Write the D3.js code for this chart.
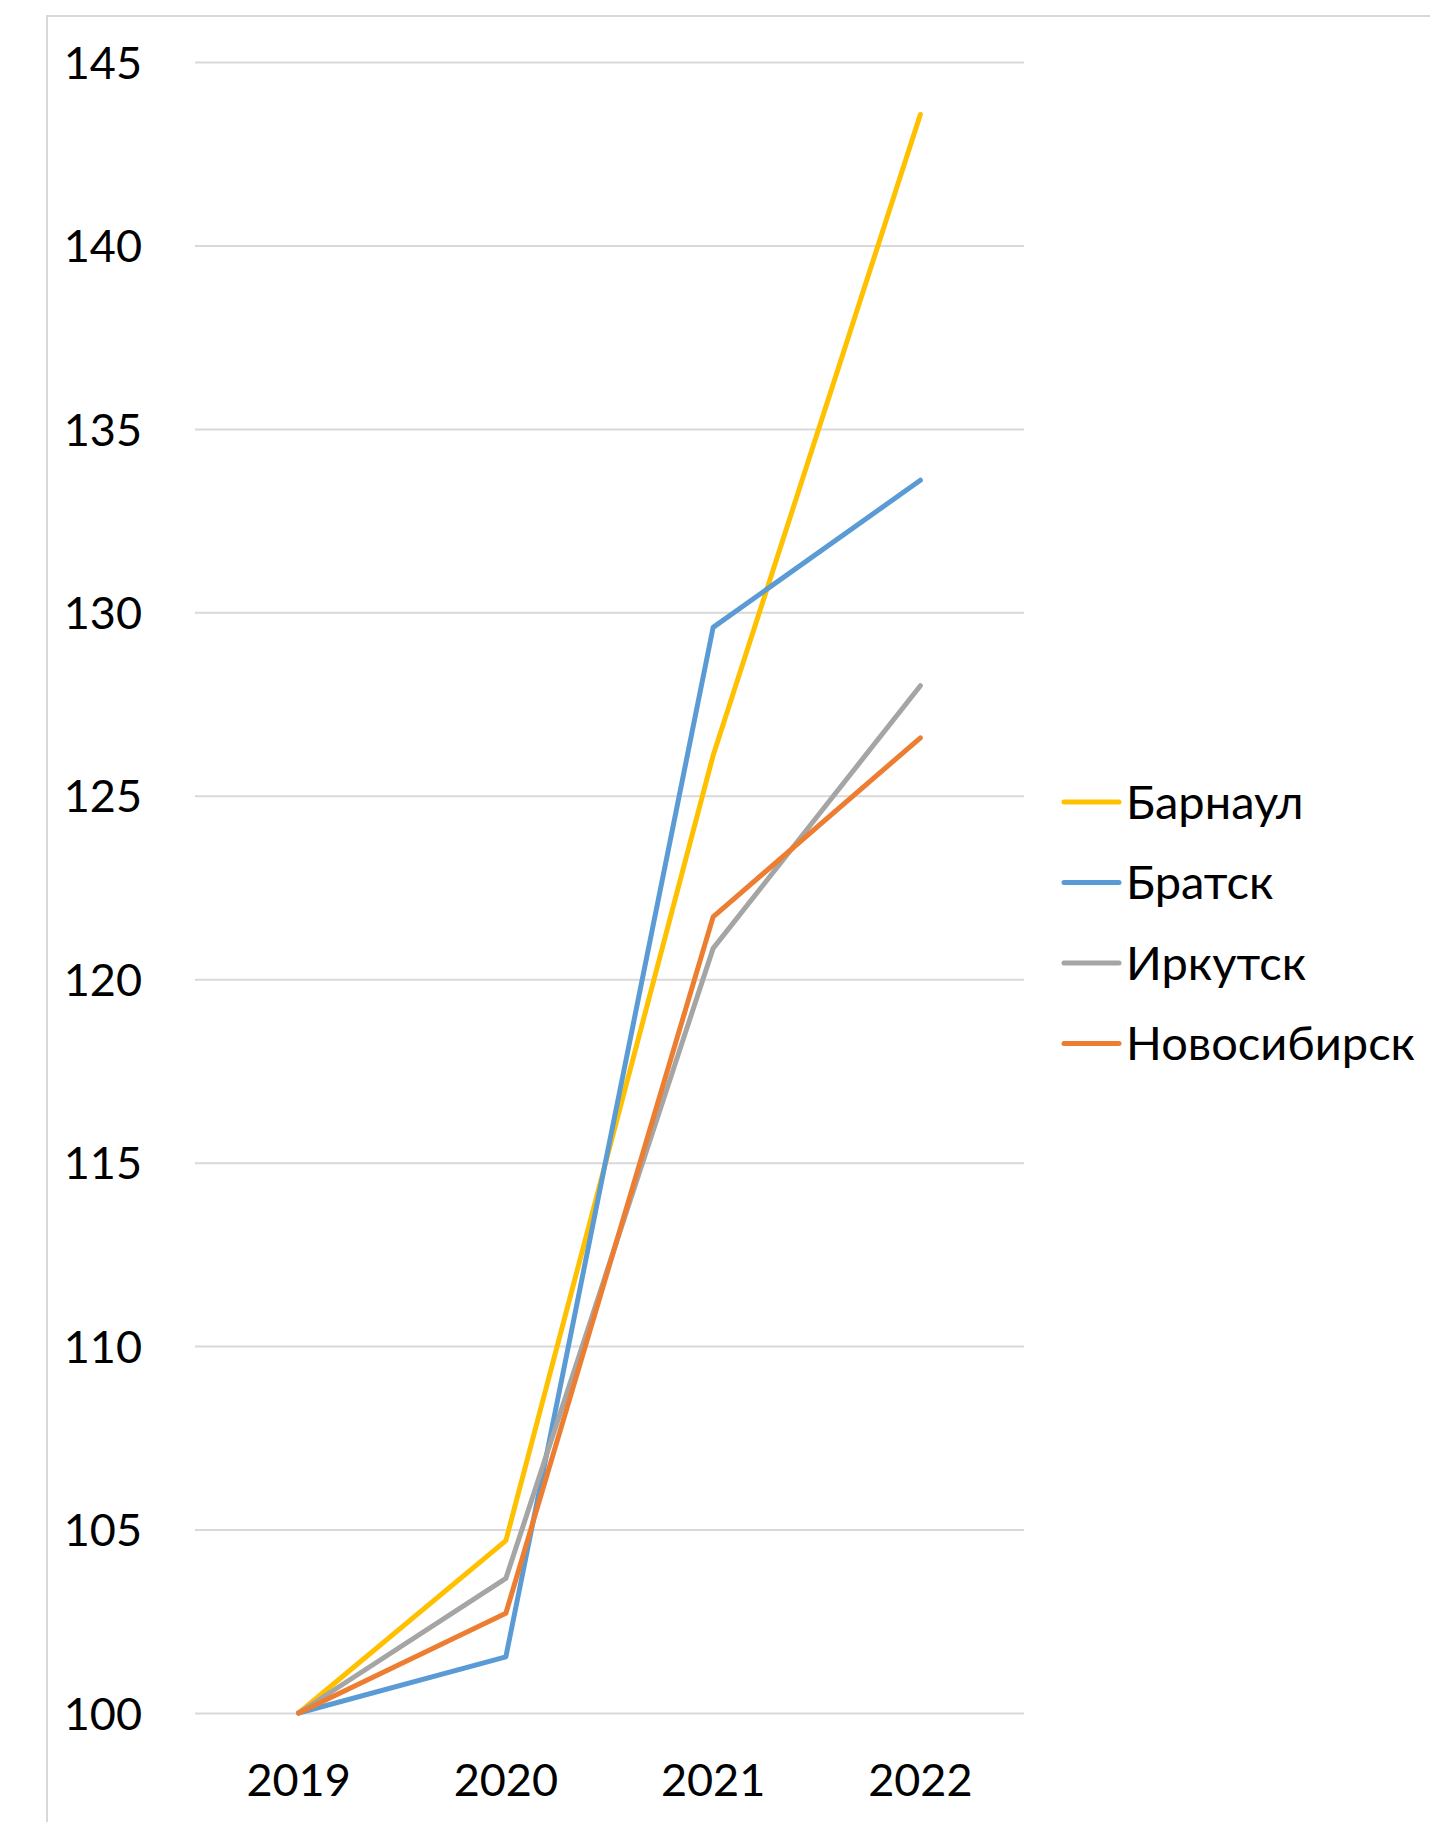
<!DOCTYPE html>
<html>
<head>
<meta charset="utf-8">
<script src="https://cdn.jsdelivr.net/npm/d3@7"></script>
<style>
    body { margin: 0; background: #fff; }
    svg { display: block; }
</style>
</head>
<body>
<svg id="graph" width="1430" height="1822"></svg>
<script>
var years = ["2019", "2020", "2021", "2022"];
var cities = ["Барнаул", "Братск", "Иркутск", "Новосибирск"];
var barnaul = [100, 104.7, 126.1, 143.57];
var bratsk = [100, 101.53, 129.59, 133.6];
var irkutsk = [100, 103.67, 120.84, 128.0];
var novosibirsk = [100, 102.72, 121.7, 126.58];
var yTicks = [100, 105, 110, 115, 120, 125, 130, 135, 140, 145];
var colors = ["#FFC000", "#5B9BD5", "#A5A5A5", "#ED7D31"];

function drawGraph() {
    var svg = d3.select("#graph"),
        font = "Lato, 'Open Sans', sans-serif";

    var series = [barnaul, bratsk, irkutsk, novosibirsk].map(function (vals, i) {
        return {
            name: cities[i],
            values: vals.map(function (v, j) {
                return { year: years[j], value: v };
            })
        };
    });

    // chart area border (runs off the page to the right and bottom)
    svg.append("rect")
        .attr("x", 47)
        .attr("y", 16)
        .attr("width", 1500)
        .attr("height", 1900)
        .attr("fill", "none")
        .attr("stroke", "#d9d9d9")
        .attr("stroke-width", 2);

    var x = d3.scaleBand()
        .domain(years)
        .range([195, 1024]);

    var y = d3.scaleLinear()
        .domain([100, 145])
        .range([1713, 62]);

    var z = d3.scaleOrdinal()
        .domain(cities)
        .range(colors);

    // gridlines + y labels
    svg.append("g")
        .attr("transform", "translate(195,0)")
        .call(d3.axisRight(y)
            .tickValues(yTicks)
            .tickSize(1024 - 195)
            .tickFormat(d3.format("d")))
        .call(g => g.select(".domain").remove())
        .call(g => g.selectAll(".tick line")
            .attr("stroke", "#d9d9d9")
            .attr("stroke-width", 2))
        .call(g => g.selectAll(".tick text")
            .attr("x", -53)
            .attr("dy", "0.36em")
            .attr("text-anchor", "end")
            .attr("fill", "#000")
            .attr("font-family", font)
            .attr("font-size", 45));

    // x labels
    svg.append("g")
        .attr("transform", "translate(0,1713)")
        .call(d3.axisBottom(x).tickSize(0))
        .call(g => g.select(".domain").remove())
        .call(g => g.selectAll(".tick text")
            .attr("y", 67)
            .attr("dy", "0.36em")
            .attr("fill", "#000")
            .attr("font-family", font)
            .attr("font-size", 45));

    var line = d3.line()
        .x(d => x(d.year) + x.bandwidth() / 2)
        .y(d => y(d.value));

    svg.append("g")
        .selectAll("path")
        .data(series)
        .join("path")
        .attr("d", d => line(d.values))
        .attr("fill", "none")
        .attr("stroke", d => z(d.name))
        .attr("stroke-width", 5)
        .attr("stroke-linecap", "round")
        .attr("stroke-linejoin", "round");

    var legend = svg.append("g")
        .attr("font-family", font)
        .attr("font-size", 47)
        .selectAll("g")
        .data(cities)
        .join("g")
        .attr("transform", function (d, i) {
            return "translate(1064," + (802 + i * 80.5) + ")";
        });

    legend.append("line")
        .attr("x1", 0)
        .attr("x2", 55)
        .attr("stroke", z)
        .attr("stroke-width", 5)
        .attr("stroke-linecap", "round");

    legend.append("text")
        .attr("x", 62)
        .attr("dy", "0.36em")
        .attr("fill", "#000")
        .text(d => d);
}

drawGraph();
</script>
</body>
</html>
